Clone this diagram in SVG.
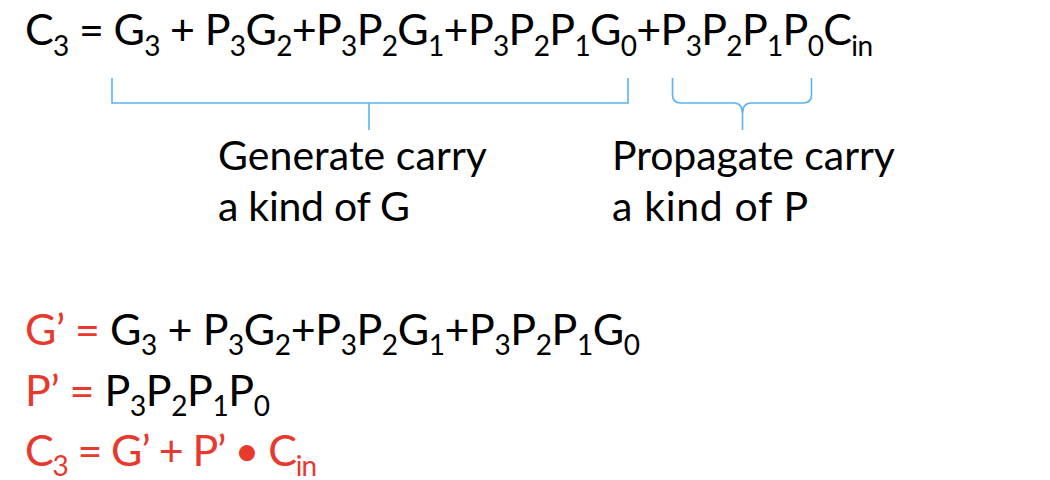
<svg xmlns="http://www.w3.org/2000/svg" width="1050" height="480" viewBox="0 0 1050 480">
<style>
text{font-family:Lato,"Open Sans","Liberation Sans",sans-serif;fill:#000}
.eq{font-size:43px}
.lbl{font-size:41px}
.red{fill:#E8392E}
.s{font-size:28px}
.br{fill:none;stroke:#5AB4F2;stroke-width:1.6}
</style>
<rect width="1050" height="480" fill="#fff"/>
<g id="eq-main">
<text class="eq" x="25" y="45" textLength="848" lengthAdjust="spacing">C<tspan class="s" dy="11">3</tspan><tspan dy="-11"> = G</tspan><tspan class="s" dy="11">3</tspan><tspan dy="-11"> + P</tspan><tspan class="s" dy="11">3</tspan><tspan dy="-11">G</tspan><tspan class="s" dy="11">2</tspan><tspan dy="-11">+P</tspan><tspan class="s" dy="11">3</tspan><tspan dy="-11">P</tspan><tspan class="s" dy="11">2</tspan><tspan dy="-11">G</tspan><tspan class="s" dy="11">1</tspan><tspan dy="-11">+P</tspan><tspan class="s" dy="11">3</tspan><tspan dy="-11">P</tspan><tspan class="s" dy="11">2</tspan><tspan dy="-11">P</tspan><tspan class="s" dy="11">1</tspan><tspan dy="-11">G</tspan><tspan class="s" dy="11">0</tspan><tspan dy="-11">+P</tspan><tspan class="s" dy="11">3</tspan><tspan dy="-11">P</tspan><tspan class="s" dy="11">2</tspan><tspan dy="-11">P</tspan><tspan class="s" dy="11">1</tspan><tspan dy="-11">P</tspan><tspan class="s" dy="11">0</tspan><tspan dy="-11">C</tspan><tspan class="s" dy="11">in</tspan></text>
</g>
<g id="connectors">
<path class="br" d="M112,78 V103 H628 V78 M369,103 V130"/>
<path class="br" d="M672.5,78 V95 Q672.5,103 681,103 H734 Q742.5,103 742.5,114 V130 M742.5,114 Q742.5,103 751,103 H803 Q811.5,103 811.5,95 V78"/>
</g>
<g id="generate">
<text class="lbl" x="218" y="170" textLength="269" lengthAdjust="spacing">Generate carry</text>
<text class="lbl" x="218" y="221" textLength="192" lengthAdjust="spacing">a kind of G</text>
</g>
<g id="propagate">
<text class="lbl" x="612" y="170" textLength="283" lengthAdjust="spacing">Propagate carry</text>
<text class="lbl" x="612" y="221" textLength="196" lengthAdjust="spacing">a kind of P</text>
</g>
<g id="g-prime">
<text class="eq" x="25" y="345" textLength="615" lengthAdjust="spacing"><tspan class="red">G’ =</tspan> G<tspan class="s" dy="10">3</tspan><tspan dy="-10"> + P</tspan><tspan class="s" dy="10">3</tspan><tspan dy="-10">G</tspan><tspan class="s" dy="10">2</tspan><tspan dy="-10">+P</tspan><tspan class="s" dy="10">3</tspan><tspan dy="-10">P</tspan><tspan class="s" dy="10">2</tspan><tspan dy="-10">G</tspan><tspan class="s" dy="10">1</tspan><tspan dy="-10">+P</tspan><tspan class="s" dy="10">3</tspan><tspan dy="-10">P</tspan><tspan class="s" dy="10">2</tspan><tspan dy="-10">P</tspan><tspan class="s" dy="10">1</tspan><tspan dy="-10">G</tspan><tspan class="s" dy="10">0</tspan></text>
</g>
<g id="p-prime">
<text class="eq" x="25" y="406" textLength="245" lengthAdjust="spacing"><tspan class="red">P’ =</tspan> P<tspan class="s" dy="10">3</tspan><tspan dy="-10">P</tspan><tspan class="s" dy="10">2</tspan><tspan dy="-10">P</tspan><tspan class="s" dy="10">1</tspan><tspan dy="-10">P</tspan><tspan class="s" dy="10">0</tspan></text>
</g>
<g id="c3">
<text class="eq red" x="25" y="466" textLength="292" lengthAdjust="spacing">C<tspan class="s" dy="10">3</tspan><tspan dy="-10"> = G’ + P’ • C</tspan><tspan class="s" dy="10">in</tspan></text>
</g>
</svg>
